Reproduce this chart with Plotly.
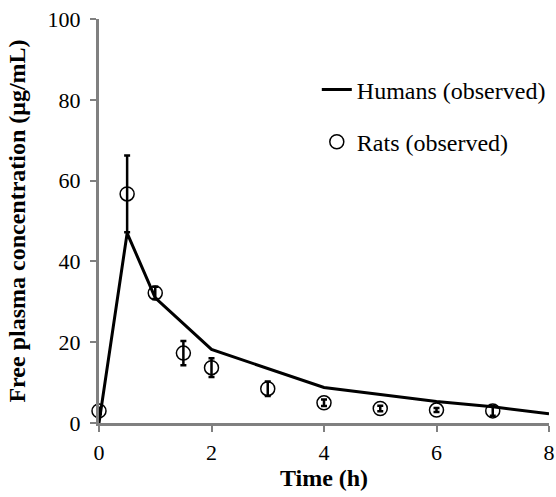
import plotly.graph_objects as go

human_time = [0, 0.5, 1, 2, 4, 6, 7, 8]
human_conc = [0, 47, 31, 18.2, 8.8, 5.3, 4.0, 2.3]

rat_time = [0, 0.5, 1, 1.5, 2, 3, 4, 5, 6, 7]
rat_conc = [3.0, 56.7, 32.2, 17.3, 13.7, 8.5, 5.0, 3.6, 3.2, 3.0]
rat_err = [0.8, 9.5, 1.5, 3.0, 2.3, 1.8, 0.8, 0.7, 0.5, 1.2]

x_ticks = [0, 2, 4, 6, 8]
y_ticks = [0, 20, 40, 60, 80, 100]

font = "Liberation Serif"

fig = go.Figure()
fig.add_trace(go.Scatter(
    x=human_time, y=human_conc, mode="lines", name="Humans (observed)",
    line=dict(color="black", width=3), legendgroup="h", cliponaxis=False,
))
fig.add_trace(go.Scatter(
    x=rat_time, y=rat_conc, mode="markers", name="Rats (observed)",
    marker=dict(symbol="circle-open", size=14, color="black", line=dict(width=1.5, color="black")),
    error_y=dict(type="data", array=rat_err, visible=True, color="black", thickness=2.5, width=3),
    legendgroup="r", cliponaxis=False,
))

axis_common = dict(
    showline=True, linecolor="#808080", linewidth=3, ticks="outside",
    tickcolor="#808080", ticklen=6, tickwidth=2, showgrid=False, zeroline=False,
    tickfont=dict(family=font, size=22, color="black"), automargin=False,
)

fig.update_layout(
    width=556, height=497,
    margin=dict(l=99, r=5, t=19, b=74),
    paper_bgcolor="white", plot_bgcolor="white",
    font=dict(family=font, color="black"),
    xaxis=dict(range=[0, 8], tickvals=x_ticks, **axis_common, ticklabelstandoff=2,
               title=dict(text="<b>Time (h)</b>", font=dict(family=font, size=24), standoff=4)),
    yaxis=dict(range=[0, 100], tickvals=y_ticks, **axis_common, ticklabelstandoff=5,
               title=dict(text="<b>Free plasma concentration (μg/mL)</b>", font=dict(family=font, size=24), standoff=16)),
    legend=dict(x=0.484, y=0.88, xanchor="left", yanchor="top", bgcolor="rgba(0,0,0,0)",
                font=dict(family=font, size=24, color="black"), tracegroupgap=18,
                itemwidth=30),
    showlegend=True,
)

fig.write_html("out.html", config={"displayModeBar": False},
               post_script="document.body.style.margin='0';")
